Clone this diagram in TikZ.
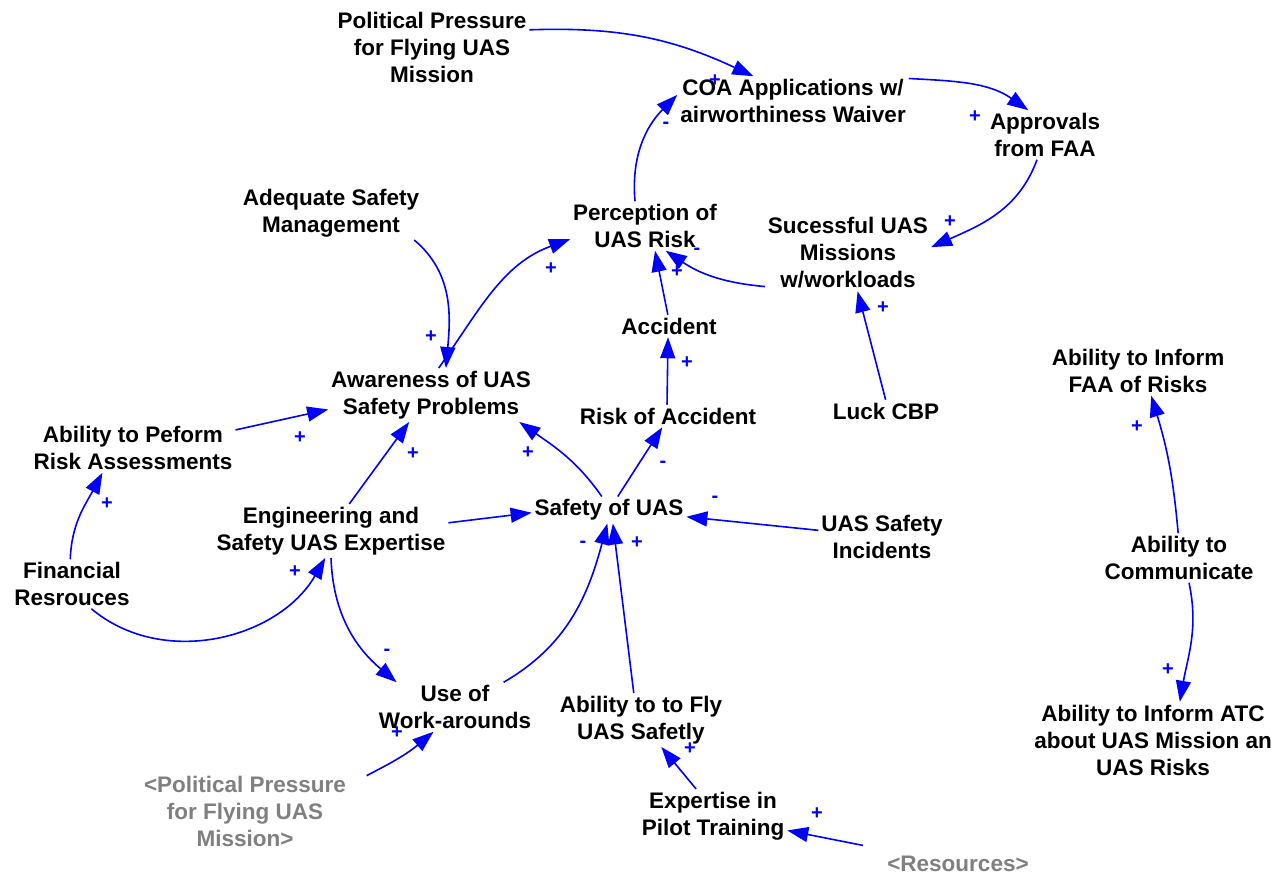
\documentclass[tikz,border=0pt]{standalone}
\usepackage{fontspec}
\setmainfont{Liberation Sans}
\usetikzlibrary{arrows.meta}
\definecolor{linkblue}{RGB}{0,0,255}
\definecolor{shadowgray}{RGB}{128,128,128}
\begin{document}
\begin{tikzpicture}[x=1pt,y=1pt,
  var/.style={font=\bfseries\fontsize{22.5}{27}\selectfont, align=center, inner sep=2pt, outer sep=1pt, text=black},
  shadowvar/.style={var, text=shadowgray},
  link/.style={draw=linkblue, line width=1.6pt, -{Triangle[length=21pt,width=15pt]}},
  pol/.style={font=\bfseries\fontsize{20}{20}\selectfont, text=linkblue, inner sep=0pt}
]
\fill[white] (0,0) rectangle (1287,-875);
\useasboundingbox (0,0) rectangle (1287,-875);

% variables
\node[var] (PP)   at (432,-47)  {Political Pressure\\for Flying UAS\\Mission};
\node[var] (COA)  at (793,-101) {COA Applications w/\\airworthiness Waiver};
\node[var] (APP)  at (1045,-135) {Approvals\\from FAA};
\node[var] (PER)  at (645,-226) {Perception of\\UAS Risk};
\node[var] (ASM)  at (331,-213) {Adequate Safety\\Management};
\node[var] (SUC)  at (848,-253) {Sucessful UAS\\Missions\\w/workloads};
\node[var] (ACC)  at (669,-326) {Accident};
\node[var] (AWA)  at (431,-395) {Awareness of UAS\\Safety Problems};
\node[var] (ROA)  at (668,-416) {Risk of Accident};
\node[var] (LUCK) at (886,-411) {Luck CBP};
\node[var] (AIF)  at (1138,-371) {Ability to Inform\\FAA of Risks};
\node[var] (APR)  at (133,-448) {Ability to Peform\\Risk Assessments};
\node[var] (ENG)  at (331,-531) {Engineering and\\Safety UAS Expertise};
\node[var] (SOU)  at (609,-510) {Safety of UAS};
\node[var] (INC)  at (882,-537) {UAS Safety\\Incidents};
\node[var] (ACOM) at (1179,-558) {Ability to\\Communicate};
\node[var] (ATC)  at (1153,-740) {Ability to Inform ATC\\about UAS Mission an\\UAS Risks};
\node[var] (FIN)  at (72,-584)  {Financial\\Resrouces};
\node[var] (USE)  at (455,-707) {Use of\\Work-arounds};
\node[var] (AFLY) at (641,-720) {Ability to to Fly\\UAS Safetly};
\node[shadowvar] (PP2) at (245,-811) {<Political Pressure\\for Flying UAS\\Mission>};
\node[var] (EXP)  at (713,-816) {Expertise in\\Pilot Training};
\node[shadowvar] (RES) at (958,-864) {<Resources>};

% causal links
\draw[link] (PP.10)    to[out=2,in=155]    (COA.148);
\draw[link] (COA.11)   to[out=-3,in=145]   (APP.124);
\draw[link] (APP.-108) to[out=-110,in=24]  (SUC.4);
\draw[link] (PER.112)  to[out=95,in=-135]  (COA.177);
\draw[link] (SUC.202)  to[out=175,in=-34]  (PER.-50);
\draw[link] (ACC.96)   --                  (PER.-68);
\draw[link] (ROA.95)   --                  (ACC.-95);
\draw[link] (LUCK.92)  --                  (SUC.-76);
\draw[link] (AWA.74)   to[out=55,in=200]   (PER.190);
\draw[link] (ASM.-18)  to[out=-40,in=85]   (AWA.61);
\draw[link] (APR.10)   --                  (AWA.188);
\draw[link] (ENG.56)   --                  (AWA.-129);
\draw[link] (SOU.118)  to[out=125,in=-35]  (AWA.-17);
\draw[link] (SOU.57)   --                  (ROA.-117);
\draw[link] (ENG.4)    --                  (SOU.182);
\draw[link] (INC.174)  --                  (SOU.-5);
\draw[link] (USE.27)   to[out=30,in=-105]  (SOU.-97);
\draw[link] (AFLY.105) --                  (SOU.-74);
\draw[link] (ENG.-90)  to[out=-88,in=140]  (USE.157);
\draw[link] (FIN.-52)  to[out=-40,in=-120] (ENG.-102);
\draw[link] (FIN.94)   to[out=88,in=-118]  (APR.-141);
\draw[link, shorten <=20pt] (PP2.14) to[out=28,in=-140] (USE.-131);
\draw[link] (EXP.122)  --                  (AFLY.-53);
\draw[link, shorten <=40pt] (RES.169) -- (EXP.-11);
\draw[link] (ACOM.92)  to[out=95,in=-73]   (AIF.-62);
\draw[link] (ACOM.-68) to[out=-78,in=80]   (ATC.55);

% link polarities
\node[pol] (s1)  at (715,-81)  {+};
\node[pol] (s2)  at (975,-117) {+};
\node[pol] (s3)  at (950,-222) {+};
\node[pol] (s4)  at (666,-125) {-};
\node[pol] (s5)  at (697,-251) {-};
\node[pol] (s6)  at (677,-272) {+};
\node[pol] (s7)  at (687,-363) {+};
\node[pol] (s8)  at (883,-308) {+};
\node[pol] (s9)  at (551,-269) {+};
\node[pol] (s10) at (431,-337) {+};
\node[pol] (s11) at (300,-438) {+};
\node[pol] (s12) at (413,-454) {+};
\node[pol] (s13) at (528,-453) {+};
\node[pol] (s14) at (663,-464) {-};
\node[pol] (s16) at (715,-499) {-};
\node[pol] (s17) at (583,-544) {-};
\node[pol] (s18) at (637,-543) {+};
\node[pol] (s19) at (387,-652) {-};
\node[pol] (s20) at (295,-572) {+};
\node[pol] (s21) at (107,-504) {+};
\node[pol] (s22) at (397,-733) {+};
\node[pol] (s23) at (690,-749) {+};
\node[pol] (s24) at (817,-814) {+};
\node[pol] (s25) at (1137,-427) {+};
\node[pol] (s26) at (1168,-670) {+};
\end{tikzpicture}
\end{document}
